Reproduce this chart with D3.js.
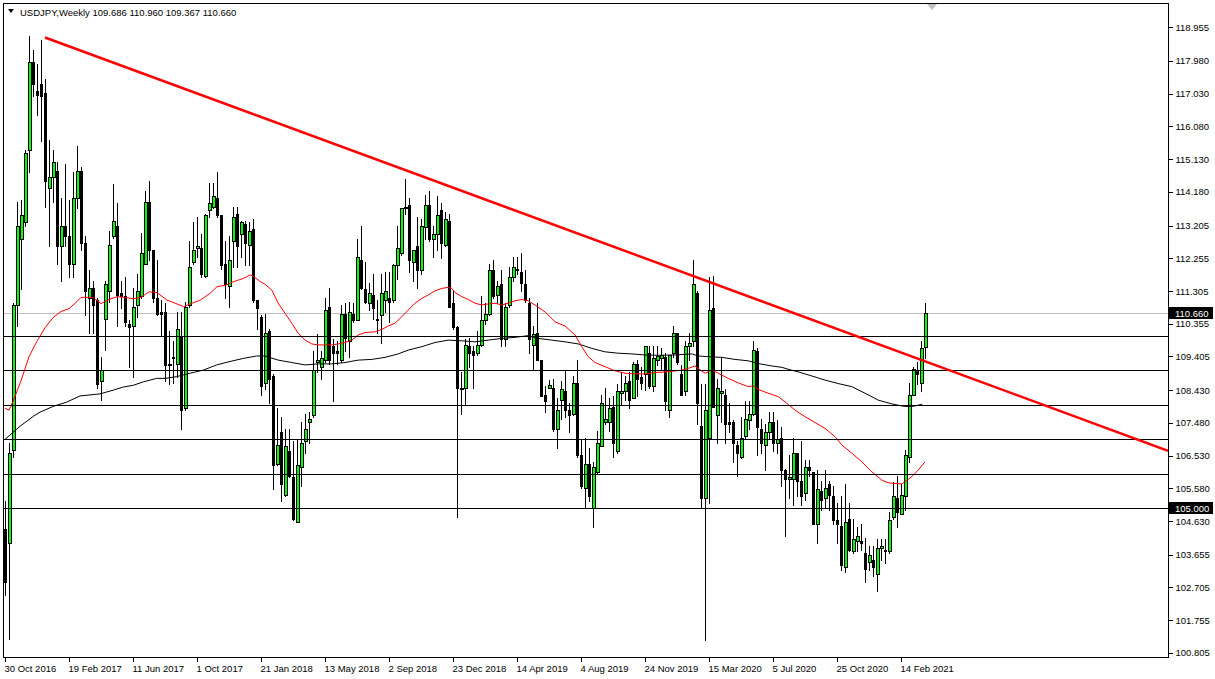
<!DOCTYPE html>
<html><head><meta charset="utf-8">
<script src="https://cdn.jsdelivr.net/npm/d3@7"></script>
<style>
body{margin:0;background:#fff;}
svg{display:block;}
text{font-family:"Liberation Sans",Arial,sans-serif;}
</style>
</head><body>
<svg id="chart" width="1215" height="679"></svg>
<script>
// ---------- DATA (weekly USDJPY, first bar = week of 30 Oct 2016) ----------
const symbolTitle = "USDJPY,Weekly";
const lastBarText = "109.686 110.960 109.367 110.660";

const opens = [
104.4,104.0,106.7,110.9,112.8,113.3,115.4,117.95,117.1,117.3,
117.05,114.3,114.6,114.8,112.6,113.2,112.9,112.1,114.0,114.8,
112.7,111.1,111.4,111.05,108.7,110.5,111.3,112.9,113.2,111.25,
111.15,110.35,110.3,110.9,111.15,112.1,113.9,112.5,111.1,110.7,
110.7,109.15,109.4,109.2,110.0,107.9,110.9,112.15,112.55,112.55,
111.75,113.65,113.75,114.0,113.5,112.1,111.45,112.75,113.55,112.95,
113.25,112.65,113.1,111.05,110.55,108.65,110.15,108.85,106.3,107.2,
105.4,106.65,105.9,104.6,106.2,106.95,107.5,107.7,109.25,109.1,
109.3,110.85,109.7,109.55,109.3,110.65,109.85,110.65,110.45,112.2,
111.35,110.95,111.2,110.5,110.6,111.05,111.1,111.05,112.05,112.4,
113.7,113.8,112.15,112.6,111.9,113.15,113.8,112.8,112.95,113.65,
112.65,113.35,110.95,110.25,108.45,108.5,109.7,109.55,109.5,109.75,
110.45,110.65,111.9,111.2,111.5,109.9,110.9,111.7,111.95,111.85,
111.5,110.95,109.75,110.1,109.3,108.3,108.48,108.5,107.3,108.15,
108.4,107.85,107.75,108.65,106.55,105.6,106.3,105.0,106.05,106.8,
107.5,107.5,107.95,106.65,108.35,108.4,108.7,108.2,109.2,108.8,
108.9,109.5,108.55,109.3,109.35,109.38,107.85,109.5,110.1,108.9,
108.4,109.7,109.85,111.25,107.4,105.3,107.05,110.8,107.7,108.35,
108.3,107.5,107.5,106.85,106.5,107.1,107.55,107.75,109.55,107.3,
106.85,107.2,107.5,106.9,107.05,106.1,105.85,105.85,106.6,105.8,
105.45,106.2,106.05,104.55,105.5,105.3,105.7,105.35,104.65,104.5,
103.3,104.7,103.75,104.05,104.05,103.7,103.45,103.5,103.1,103.85,
103.8,103.75,104.75,105.3,104.85,105.35,106.5,108.3,109.0,108.65,
109.686];

const highs = [
105.2,106.9,110.95,113.9,113.95,115.4,118.7,118.3,117.9,118.6,
117.45,115.7,115.4,115.05,114.0,115.0,113.95,114.75,115.5,114.9,
112.9,111.9,111.6,111.1,109.4,111.6,113.05,114.4,113.85,111.6,
111.7,110.45,111.4,111.8,113.0,114.2,114.5,112.5,112.2,111.05,
110.95,110.15,109.85,110.7,110.7,111.0,112.75,113.3,113.45,112.95,
113.55,114.45,114.45,114.75,113.5,112.75,112.9,113.75,113.75,113.35,
113.35,113.3,113.4,111.05,110.6,110.65,110.2,108.9,107.9,107.65,
107.3,107.3,106.95,107.0,107.5,107.75,107.8,109.55,110.05,109.55,
111.1,111.4,109.9,109.85,110.9,110.95,111.0,110.95,112.8,113.2,
112.15,111.55,111.8,111.05,111.8,111.85,111.85,112.1,113.2,113.7,
114.55,114.0,112.5,113.45,113.4,114.1,114.2,113.2,114.05,113.85,
113.6,113.55,111.3,110.3,108.95,109.9,109.95,109.7,110.15,111.15,
110.95,112.1,112.2,111.6,111.9,110.95,112.0,112.3,112.3,112.4,
111.9,111.1,110.3,110.95,109.3,108.55,108.72,108.75,108.2,108.7,
109.0,108.05,108.85,109.3,107.0,107.05,106.75,106.35,107.25,108.3,
108.5,108.2,108.25,108.6,108.95,108.85,108.95,109.25,109.3,109.1,
109.7,109.7,109.7,109.7,109.65,109.5,109.45,110.3,110.1,109.15,
109.85,110.1,112.2,111.3,108.6,108.6,111.7,111.75,108.75,109.4,
108.45,108.05,107.55,106.95,107.65,108.1,108.1,109.85,109.65,107.6,
107.45,107.8,107.8,107.55,107.35,106.15,106.55,107.05,106.6,106.95,
106.4,106.4,106.05,106.1,105.8,106.1,105.8,105.65,105.15,105.35,
105.7,105.15,104.7,104.45,104.55,104.15,103.9,103.9,104.1,104.1,
104.1,104.9,105.75,105.95,105.7,106.7,108.65,109.1,109.25,109.85,
110.96];

const lows = [
102.5,101.2,106.5,110.3,111.35,113.2,114.75,116.95,116.4,115.65,
113.75,112.6,113.9,112.1,111.6,112.6,111.7,111.7,113.7,112.5,
110.6,110.1,110.1,108.5,108.13,109.6,111.0,112.85,110.3,110.8,
110.3,109.1,108.8,110.55,111.1,112.1,112.2,111.0,110.6,110.0,
108.7,108.6,108.65,108.8,107.3,107.85,110.85,112.1,112.3,111.7,
111.7,113.45,113.7,113.45,111.95,111.1,110.85,112.0,112.0,112.3,
112.05,112.05,111.0,110.2,108.3,108.45,108.05,105.55,106.25,105.2,
105.35,105.9,104.65,104.6,105.65,106.6,106.9,107.65,108.95,108.75,
109.25,109.2,108.1,109.2,109.25,109.55,109.4,110.4,110.45,111.35,
110.95,110.75,110.5,110.1,109.8,110.7,110.4,111.0,111.65,112.35,
113.55,111.85,111.6,111.4,111.8,112.8,112.75,112.3,112.5,112.25,
112.6,110.85,110.2,104.75,107.75,108.0,109.1,108.5,109.45,109.7,
110.35,110.6,111.1,110.95,109.7,109.7,110.85,111.6,111.8,111.3,
111.0,109.5,109.0,109.3,108.25,107.8,108.48,107.25,106.75,107.6,
107.65,107.2,107.7,106.5,105.6,105.05,105.2,104.45,106.0,106.8,
107.45,107.25,106.5,106.6,108.0,108.15,107.9,108.2,108.25,108.45,
108.43,108.5,108.4,109.15,109.05,107.85,107.65,109.4,109.2,108.3,
108.3,109.3,109.7,107.45,105.0,101.18,105.15,107.95,106.9,107.5,
106.9,107.2,106.35,105.95,106.45,107.05,107.3,107.7,106.55,106.6,
106.1,107.0,106.65,106.6,105.65,104.2,105.3,105.1,105.35,105.1,
105.25,105.95,104.55,104.0,104.95,105.0,104.95,104.55,104.0,103.2,
103.15,103.75,103.7,103.75,103.8,102.85,103.2,103.05,102.6,103.5,
103.4,103.7,104.7,104.45,104.85,104.95,106.35,108.3,108.6,108.4,
109.367];

const closes = [
102.85,106.6,110.9,113.2,113.5,115.3,117.95,117.3,117.0,116.95,
114.5,114.6,115.05,112.6,113.2,112.9,112.1,114.0,114.8,112.7,
111.3,111.4,110.9,108.6,109.0,111.5,112.65,113.35,111.2,111.15,
110.4,110.25,110.85,111.3,112.4,113.9,112.5,111.1,110.65,110.65,
109.15,109.2,109.35,110.2,107.85,110.85,112.0,112.5,112.62,111.8,
113.5,113.85,114.05,113.5,112.05,111.5,112.2,113.45,112.6,113.3,
112.7,113.05,111.05,110.8,108.55,110.1,108.75,106.25,106.85,105.7,
106.8,105.95,104.7,106.25,106.9,107.3,107.6,109.0,109.3,109.35,
110.75,109.3,109.5,109.5,110.65,109.95,110.7,110.45,112.3,111.4,
111.0,111.25,110.8,110.45,111.25,111.3,111.0,112.05,112.55,113.7,
113.75,112.2,112.5,111.9,113.2,113.8,112.8,112.95,113.5,112.7,
113.4,110.85,110.25,108.5,108.5,109.75,109.5,109.45,109.75,110.45,
110.65,111.9,111.15,111.45,109.9,110.85,111.7,112.0,111.9,111.55,
111.05,109.9,110.05,109.3,108.25,108.1,108.58,107.3,107.85,108.45,
107.85,107.7,108.65,106.55,105.65,106.3,105.35,106.2,106.9,108.05,
107.58,107.9,106.9,108.4,108.4,108.65,108.15,109.2,108.75,108.65,
109.7,108.55,109.35,109.42,109.45,108.1,109.45,110.1,109.25,108.3,
109.7,109.8,111.5,108.05,105.3,107.85,110.75,107.95,108.5,108.4,
107.45,107.45,106.9,106.6,107.05,107.6,107.75,109.6,107.35,106.9,
107.2,107.5,106.9,107.0,106.1,105.85,105.9,106.6,105.8,105.35,
106.2,106.1,104.55,105.55,105.25,105.6,105.4,104.65,104.55,103.35,
104.6,103.8,104.1,104.2,104.0,103.25,103.65,103.3,103.85,103.9,
103.75,104.65,105.35,104.9,105.4,106.55,108.3,109.05,108.9,109.65,
110.66];

// moving averages: [bar index, value]
const maRed = [[0,107.9],[1,107.85],[2,108.1],[4,108.7],[6,109.4],[8,109.85],[10,110.24],[12,110.53],[14,110.71],[16,110.79],[18,111.0],[19,111.12],[22,111.12],[24,110.94],[26,111.06],[28,111.14],[30,111.12],[32,111.08],[34,111.12],[36,111.28],[38,111.26],[40.5,111.04],[43,110.93],[44.6,110.85],[46.3,110.93],[48.8,111.04],[51.3,111.24],[53,111.43],[55.4,111.48],[57,111.57],[59.6,111.67],[61.3,111.77],[62,111.74],[63.8,111.58],[65,111.5],[66.7,111.33],[68.3,110.95],[70,110.66],[71.7,110.37],[73.3,110.08],[75,109.88],[76.7,109.77],[78.3,109.74],[81.7,109.74],[83.3,109.77],[85,109.81],[86.7,109.88],[88.3,110.03],[90,110.1],[92.5,110.12],[94.2,110.19],[95.8,110.29],[97.5,110.37],[99.2,110.56],[100.8,110.75],[102.5,110.95],[104.2,111.09],[105.8,111.19],[107.5,111.31],[109.2,111.38],[110.8,111.41],[111.7,111.38],[112.5,111.26],[114.2,111.14],[115.8,111.06],[117.5,110.95],[119.2,110.9],[120.8,110.93],[122.5,110.95],[124.2,110.9],[125.8,110.95],[127.5,111.02],[129.2,111.06],[130.8,111.02],[132.5,110.9],[135,110.7],[137.5,110.41],[140,110.29],[142.5,110.03],[144.2,109.69],[145.8,109.4],[147.5,109.23],[150,109.11],[152.5,108.99],[155,108.92],[157.5,108.9],[160,108.9],[162.5,108.94],[165.8,108.96],[169.2,109.01],[170.8,109.06],[172.5,109.13],[173.3,109.06],[175,108.92],[176.7,109.01],[178.3,108.92],[180.8,108.77],[183.3,108.64],[185.8,108.53],[187.1,108.55],[188.3,108.45],[190.8,108.34],[193.3,108.24],[195,108.09],[197.5,107.85],[200,107.66],[202.5,107.49],[205,107.32],[207.5,107.08],[209.2,106.84],[211.7,106.6],[214.2,106.35],[216.7,106.06],[219.2,105.82],[220.8,105.74],[222.5,105.72],[224.2,105.71],[225,105.77],[226.7,105.92],[228.3,106.11],[230,106.35]];

const maBlack = [[0,107.0],[3.75,107.38],[7.1,107.67],[8.75,107.79],[12.1,107.96],[15.4,108.08],[18.75,108.26],[23.75,108.32],[27.1,108.43],[29.6,108.52],[32.1,108.57],[34.6,108.67],[37.9,108.77],[40,108.77],[42.9,108.82],[46.25,108.92],[49.6,109.01],[52.9,109.16],[56.25,109.26],[59.6,109.35],[62.9,109.42],[65,109.42],[68.3,109.3],[71.7,109.23],[75,109.16],[78.3,109.19],[81.7,109.19],[85,109.23],[88.3,109.3],[91.7,109.32],[95,109.38],[98.3,109.48],[100.8,109.59],[104.2,109.69],[107.5,109.81],[110.8,109.88],[114.2,109.86],[117.5,109.83],[120.8,109.88],[124.2,109.93],[127.5,109.96],[130.8,110.01],[133.3,109.93],[136.7,109.88],[140,109.83],[143.3,109.77],[146.7,109.64],[150,109.54],[153.3,109.5],[156.7,109.48],[160,109.45],[163.3,109.44],[167.5,109.45],[171.7,109.48],[173.3,109.42],[175.8,109.4],[179.2,109.38],[182.5,109.32],[185.8,109.28],[188.3,109.2],[191.7,109.13],[194.2,109.09],[196.25,109.02],[198.3,108.96],[201.7,108.84],[205,108.72],[208.3,108.62],[211.7,108.53],[215,108.34],[218.3,108.14],[221.7,108.03],[224.2,107.97],[225.8,107.95],[227.5,107.97],[229.3,108.02]];

// trend line anchors [bar index, price]
const trendAnchors = [[10,118.66],[195,110.76]];
// horizontal levels
const levels = [110.0, 109.0, 108.0, 107.0, 106.0, 105.0];
const bidPrice = 110.660;
const markedLevel = 105.000;

const priceTicks = [118.955,117.980,117.030,116.080,115.130,114.180,113.205,112.255,111.305,110.355,109.405,108.430,107.480,106.530,105.580,104.630,103.655,102.705,101.755,100.805];
const dateTickBars = [0,16,32,48,64,80,96,112,128,144,160,176,192,208,224];
const dateTickLabels = ["30 Oct 2016","19 Feb 2017","11 Jun 2017","1 Oct 2017","21 Jan 2018","13 May 2018","2 Sep 2018","23 Dec 2018","14 Apr 2019","4 Aug 2019","24 Nov 2019","15 Mar 2020","5 Jul 2020","25 Oct 2020","14 Feb 2021"];

// ---------- LAYOUT ----------
const W = 1215, H = 679;
const plot = {left: 3, top: 3, right: 1168, bottom: 657};
const svg = d3.select("#chart");

const x = d3.scaleLinear().domain([-0.5, 290.75]).range([plot.left, plot.right]);
const y = d3.scaleLinear().domain([100.687, 119.66]).range([plot.bottom, plot.top]);

const bars = d3.range(opens.length).map(i => ({i, o: opens[i], h: highs[i], l: lows[i], c: closes[i]}));

svg.append("rect").attr("width", W).attr("height", H).attr("fill", "#fff");

svg.append("defs").append("clipPath").attr("id", "clip")
  .append("rect").attr("x", plot.left).attr("y", plot.top)
  .attr("width", plot.right - plot.left).attr("height", plot.bottom - plot.top);

const g = svg.append("g").attr("clip-path", "url(#clip)");
const px = v => Math.round(v);

// bid line (grey)
g.append("line")
  .attr("x1", plot.left).attr("x2", plot.right)
  .attr("y1", px(y(bidPrice)) + 0.5).attr("y2", px(y(bidPrice)) + 0.5)
  .attr("stroke", "#c0c0c0").attr("stroke-width", 1);

// candles
const cg = g.append("g").attr("shape-rendering", "crispEdges");
cg.selectAll("rect.wick").data(bars).join("rect")
  .attr("class", "wick")
  .attr("x", d => px(x(d.i))).attr("width", 1)
  .attr("y", d => px(y(d.h))).attr("height", d => px(y(d.l)) - px(y(d.h)) + 1)
  .attr("fill", "#000");

const isBull = d => d.c > d.o;
const bodyTop = d => px(y(Math.max(d.o, d.c)));
const bodyBot = d => px(y(Math.min(d.o, d.c)));
// outer body (black outline / black bear body)
cg.selectAll("rect.body").data(bars).join("rect")
  .attr("class", "body")
  .attr("x", d => px(x(d.i)) - 1).attr("width", d => isBull(d) ? 4 : 3)
  .attr("y", bodyTop).attr("height", d => Math.max(1, bodyBot(d) - bodyTop(d) + 1))
  .attr("fill", "#000");
// green interior for bull bars
cg.selectAll("rect.bull").data(bars.filter(d => isBull(d) && bodyBot(d) - bodyTop(d) >= 2)).join("rect")
  .attr("class", "bull")
  .attr("x", d => px(x(d.i))).attr("width", 2)
  .attr("y", d => bodyTop(d) + 1).attr("height", d => bodyBot(d) - bodyTop(d) - 1)
  .attr("fill", "#00ff00");

// moving averages
const maLine = d3.line().x(d => x(d[0])).y(d => y(d[1]));
g.append("path").datum(maBlack).attr("d", maLine)
  .attr("fill", "none").attr("stroke", "#000").attr("stroke-width", 1);
g.append("path").datum(maRed).attr("d", maLine)
  .attr("fill", "none").attr("stroke", "#ff0000").attr("stroke-width", 1);

// horizontal levels
g.selectAll("line.level").data(levels).join("line")
  .attr("class", "level")
  .attr("x1", plot.left).attr("x2", plot.right)
  .attr("y1", d => px(y(d)) + 0.5).attr("y2", d => px(y(d)) + 0.5)
  .attr("stroke", "#000").attr("stroke-width", 1).attr("shape-rendering", "crispEdges");

// trend line (ray to the right edge)
const [a1, a2] = trendAnchors;
const slope = (a2[1] - a1[1]) / (a2[0] - a1[0]);
const iEnd = x.domain()[1];
g.append("line")
  .attr("x1", x(a1[0])).attr("y1", y(a1[1]))
  .attr("x2", x(iEnd)).attr("y2", y(a1[1] + slope * (iEnd - a1[0])))
  .attr("stroke", "#ff0000").attr("stroke-width", 2.5);

// frame
svg.append("rect")
  .attr("x", plot.left + 0.5).attr("y", plot.top + 0.5)
  .attr("width", plot.right - plot.left).attr("height", plot.bottom - plot.top)
  .attr("fill", "none").attr("stroke", "#000").attr("stroke-width", 1)
  .attr("shape-rendering", "crispEdges");

// right price axis
const yAxis = d3.axisRight(y).tickValues(priceTicks).tickFormat(d3.format(".3f")).tickSize(4).tickPadding(3);
const ya = svg.append("g").attr("transform", `translate(${plot.right + 0.5},0)`).call(yAxis);
ya.select(".domain").remove();
ya.selectAll(".tick line").attr("stroke", "#000").attr("shape-rendering", "crispEdges");
ya.selectAll(".tick text").attr("font-family", "Liberation Sans, Arial, sans-serif")
  .attr("font-size", 9.5).attr("fill", "#000");

// highlighted price labels
[[bidPrice, "110.660"], [markedLevel, "105.000"]].forEach(([v, t]) => {
  const yy = px(y(v));
  svg.append("rect").attr("x", plot.right + 1).attr("y", yy - 6).attr("width", 44).attr("height", 12).attr("fill", "#000");
  svg.append("text").attr("x", plot.right + 7).attr("y", yy + 3.5)
    .attr("font-size", 9.5).attr("fill", "#fff").text(t);
});

// bottom date axis
const xAxis = d3.axisBottom(x).tickValues(dateTickBars).tickFormat((d, k) => dateTickLabels[k]).tickSize(4).tickPadding(4);
const xa = svg.append("g").attr("transform", `translate(0,${plot.bottom + 0.5})`).call(xAxis);
xa.select(".domain").remove();
xa.selectAll(".tick line").attr("stroke", "#000").attr("shape-rendering", "crispEdges");
xa.selectAll(".tick text").attr("text-anchor", "start").attr("dx", -1)
  .attr("font-family", "Liberation Sans, Arial, sans-serif").attr("font-size", 9.5).attr("fill", "#000");

// header
svg.append("path").attr("d", "M8,9 L14,9 L11,13 Z").attr("fill", "#000");
svg.append("text").attr("x", 20).attr("y", 16).attr("font-size", 9.5).attr("fill", "#000")
  .text(symbolTitle + "  " + lastBarText);

// chart-shift marker
svg.append("path").attr("d", `M${x(230.5)},${plot.top + 1} L${x(230.5) + 10},${plot.top + 1} L${x(230.5) + 5},${plot.top + 7} Z`).attr("fill", "#c0c0c0");
</script>
</body></html>
